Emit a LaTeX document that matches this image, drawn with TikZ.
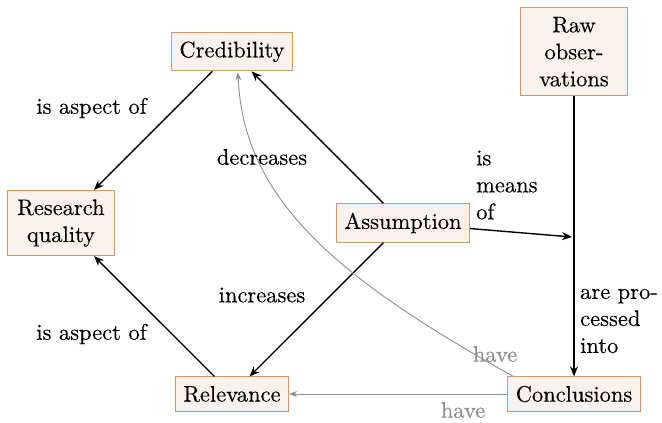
\documentclass[tikz,border=0pt]{standalone}
\usepackage{fontspec}
\setmainfont{lmroman10-regular.otf}[FakeBold=0.3]
\usetikzlibrary{arrows.meta}
\definecolor{boxfill}{RGB}{249,241,235}
\definecolor{boxdraw}{RGB}{214,152,96}
\definecolor{edgegray}{RGB}{140,140,140}
\tikzset{
  concept/.style={draw=boxdraw, fill=boxfill, line width=0.9pt, inner xsep=8pt, inner ysep=9pt,
    font=\rmfamily\fontsize{22.5}{27}\selectfont},
  widebox/.style={concept, text width=91pt, align=center},
  lbl/.style={font=\rmfamily\fontsize{22.5}{27}\selectfont, inner sep=0pt},
  glbl/.style={lbl, text=edgegray},
  blackarrow/.style={line width=1.4pt, -{Stealth[length=10pt,width=8pt]}},
  grayarrow/.style={line width=0.9pt, draw=edgegray, -{Stealth[length=8pt,width=6pt]}}
}
\begin{document}
\begin{tikzpicture}[x=1pt,y=-1pt]
\useasboundingbox (0,0) rectangle (662,423);
\node[concept] (cred) at (232,51.7) {Credibility};
\node[widebox] (raw) at (574,51.7) {Raw\\obser-\\vations};
\node[concept] (asm) at (403,223) {Assumption};
\node[widebox] (rq) at (61,223) {Research\\quality};
\node[concept] (rel) at (232,394) {Relevance};
\node[concept] (conc) at (574,394) {Conclusions};
\coordinate (mid) at (572,237);

\draw[blackarrow] (cred) -- (rq);
\draw[blackarrow] (rel) -- (rq);
\draw[blackarrow] (asm) -- (cred);
\draw[blackarrow] (asm) -- (rel);
\draw[blackarrow] (asm) -- (mid);
\draw[blackarrow] (raw) -- (conc);
\draw[grayarrow] (conc) -- (rel);
\draw[grayarrow] ([xshift=6pt]conc.north west) .. controls +(-170,-95) and +(5,130) .. ([xshift=6pt,yshift=-1pt]cred.south);

\node[lbl] (l1) at (91.5,108) {is aspect of};
\node[lbl] (l2) at (91.5,334) {is aspect of};
\node[lbl] (l3) at (262,157) {decreases};
\node[lbl] (l4) at (262,295) {increases};
\node[lbl, align=left, anchor=west] (l5) at (476,185) {is\\means\\of};
\node[lbl, align=left, anchor=west] (l6) at (580,321) {are pro-\\cessed\\into};
\node[glbl] (l7) at (463,410) {have};
\node[glbl] (l8) at (495,354) {have};
\end{tikzpicture}
\end{document}
